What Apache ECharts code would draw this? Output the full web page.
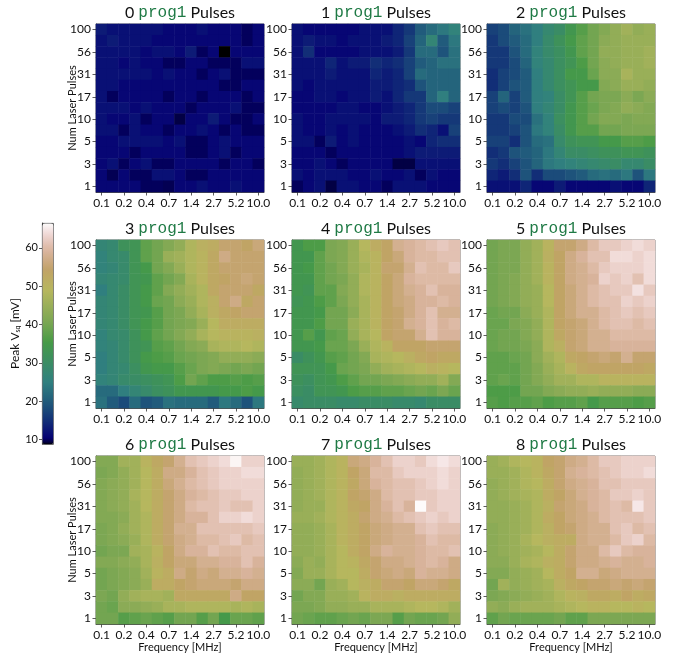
<!DOCTYPE html>
<html><head><meta charset="utf-8">
<script src="https://cdn.jsdelivr.net/npm/echarts@6/dist/echarts.min.js"></script>
<style>html,body{margin:0;padding:0;background:#fff}#c{width:673px;height:659px}</style>
</head><body><div id="c"></div>
<script>
// ---------- data ----------
const freqLabels = ["0.1","0.1","0.2","0.3","0.4","0.5","0.7","1.0","1.4","1.9","2.7","3.7","5.2","7.2","10.0"];
const pulseLabels = ["1","2","3","4","5","7","10","13","17","23","31","42","56","75","100"];
const panelNumbers = [0,1,2,3,4,5,6,7,8];
const colorbarTicks = [10,20,30,40,50,60];
const colorMin = 8.8, colorMax = 66.5;

// each panel: rows from top (100 pulses) to bottom (1 pulse), columns 0.1 -> 10 MHz
const panel0 = [
 [13,12,12,12,12,12,11,11,11,12,11,11,11,10,11],
 [12,13,12,12,12,11,11,11,11,11,11,11,11,10,11],
 [12,12,12,12,11,12,12,11,13,10,11,8.8,11,11,11],
 [12,12,11,12,11,11,10,10,11,11,10,10,10,12,12],
 [12,12,12,12,12,11,12,11,11,10,11,12,10,10,10],
 [12,12,11,11,11,11,11,11,11,11,11,10,10,11,11],
 [12,10,11,11,11,11,10,11,11,10,11,11,11,10,11],
 [12,12,12,11,12,11,11,11,10,11,11,11,12,10,10],
 [12,11,11,12,10,11,11,9.5,11,11,13,11,10,10,11],
 [12,12,10,12,11,11,10,11,11,12,11,10,11,10,10],
 [11,11,12,12,12,12,11,12,10,10,11,12,11,11,11],
 [11,11,11,10,11,11,11,11,10,10,11,12,10,11,11],
 [11,12,10,11,12,10,10,11,11,11,11,10,11,11,10],
 [11,9.8,11,10,10,12,12,11,10,10,11,11,11,11,11],
 [11,11,11,11,10,10,9.8,11,11,12,11,11,12,11,11]
];
const panel1 = [
 [12,11,11,11,11,11,12,12,12,14,16,20,22,24,26],
 [12,13,12,12,11,12,12,12,13,14,17,21,27,20,24],
 [12,15,11,11,11,11,12,12,12,13,16,22,22,19,23],
 [12,12,12,14,12,13,13,15,14,15,17,20,21,23,23],
 [12,12,12,13,12,12,12,14,13,14,17,22,21,21,21],
 [12,11,12,12,12,12,12,13,13,14,15,19,21,21,21],
 [11,11,12,12,11,12,12,13,12,14,16,16,21,25,21],
 [11,11,11,11,12,12,11,11,12,13,14,16,18,18,17],
 [12,11,11,12,12,12,12,11,13,13,14,16,17,16,16],
 [12,11,11,12,11,12,11,11,11,12,13,15,14,12,17],
 [12,12,10,13,11,12,11,11,11,11,12,11,14,15,15],
 [11,11,11,10,11,11,11,11,11,11,12,13,13,13,13],
 [11,11,12,11,10,11,11,11,11,9.5,9.5,12,12,12,12],
 [12,11,12,12,12,11,11,12,11,11,12,10,12,11,11],
 [10,11,12,9.5,12,12,11,11,10,12,12,12,11,11,11]
];
const panel2 = [
 [17,18,21,23,25,28,30,34,37,40,42,44,46,44,45],
 [16,18,20,22,25,29,32,35,38,40,43,44,45,45,45],
 [16,16,19,22,26,29,31,34,38,40,44,44,45,45,46],
 [16,16,18,21,26,28,31,33,36,40,43,44,45,45,46],
 [15,17,18,20,25,28,31,35,35,39,43,43,47,45,45],
 [15,17,19,20,25,28,31,33,35,35,42,43,45,45,44],
 [17,21,17,20,25,26,30,33,37,40,41,41,43,41,43],
 [17,18,17,19,25,27,30,34,37,39,41,42,44,43,42],
 [16,16,18,18,23,26,31,34,37,40,42,42,41,42,42],
 [16,16,17,19,24,26,30,34,37,37,40,40,41,41,41],
 [17,17,15,19,22,23,29,32,33,33,35,35,37,37,36],
 [15,16,19,20,21,24,27,30,30,31,32,32,33,33,32],
 [16,15,17,19,21,24,25,26,27,28,29,30,28,28,30],
 [14,13,15,19,15,18,18,19,20,22,23,22,24,19,24],
 [12,12,12,14,11,11,13,11,11,11,11,12,11,11,14]
];
const panel3 = [
 [27,28,32,33,38,40,42,44,48,51,52,55,55,54,56],
 [26,28,29,33,38,40,45,46,48,50,53,57,55,55,55],
 [26,27,29,33,35,40,42,45,48,50,53,55,55,55,55],
 [27,28,29,33,34,38,40,42,47,50,53,54,55,56,55],
 [25,28,30,33,35,38,42,44,46,48,53,55,55,55,53],
 [27,28,30,33,35,39,40,43,45,48,51,55,57,53,55],
 [27,28,30,33,34,37,40,41,44,47,51,53,54,55,55],
 [27,28,30,33,35,37,40,41,42,45,49,52,52,52,52],
 [26,28,29,32,35,38,40,42,44,47,49,50,50,50,51],
 [26,27,29,32,33,37,38,40,42,43,47,48,48,49,48],
 [25,27,29,32,35,36,37,39,40,41,42,44,44,44,43],
 [25,27,28,31,34,35,35,37,39,41,42,41,40,41,40],
 [26,27,29,30,31,32,33,36,40,38,36,36,37,36,37],
 [22,22,25,27,29,31,32,34,34,34,34,35,35,36,35],
 [23,20,18,22,19,20,23,22,22,22,20,24,22,19,24]
];
const panel4 = [
 [34,36,36,41,42,45,49,52,54,58,59,60,61,62,61],
 [34,34,38,41,42,45,48,50,54,56,59,60,60,61,61],
 [34,35,38,40,42,45,47,50,55,55,58,61,60,60,62],
 [34,34,38,40,41,44,48,50,54,56,59,60,60,60,60],
 [34,33,38,38,42,44,48,50,54,56,58,59,61,59,59],
 [33,34,36,38,41,44,47,50,54,56,57,59,59,60,59],
 [34,34,35,40,40,43,47,50,54,55,57,59,61,58,58],
 [34,34,36,40,40,45,47,50,54,55,58,59,61,59,60],
 [34,37,34,38,39,44,47,49,54,55,55,58,61,59,59],
 [34,34,35,39,39,41,45,48,50,54,54,54,55,55,55],
 [30,32,34,37,38,40,42,47,48,49,51,53,54,53,53],
 [33,33,33,35,39,40,41,44,46,47,48,49,51,50,49],
 [32,31,33,34,36,38,40,40,41,42,43,44,44,46,42],
 [31,30,33,33,34,36,37,37,38,38,39,40,39,41,39],
 [29,30,30,30,29,29,30,30,30,29,29,28,30,30,30]
];
const panel5 = [
 [40,41,41,44,46,50,55,55,57,60,62,62,63,64,63],
 [40,41,41,44,46,51,54,57,59,61,61,64,64,63,64],
 [40,41,41,44,46,50,54,57,58,60,62,63,63,63,64],
 [40,41,42,44,46,50,54,57,58,59,63,62,63,61,64],
 [40,41,42,44,45,49,54,56,58,60,61,62,62,64.5,62],
 [40,41,42,44,45,49,54,56,58,60,61,61,63,62,63],
 [39,40,40,43,45,48,54,56,58,58,60,61,62,61,62],
 [39,39,41,42,44,48,54,55,56,58,60,61,61,60,61],
 [39,40,40,42,44,48,53,55,56,58,58,60,60,60,60],
 [39,40,40,41,43,48,51,55,56,58,58,59,59,59,59],
 [38,38,39,40,43,46,48,53,54,55,56,55,58,55,55],
 [38,38,38,40,42,45,47,50,53,54,54,54,54,54,53],
 [38,39,38,40,42,44,46,46,48,48,50,50,50,50,50],
 [36,36,36,40,40,42,43,44,44,45,44,44,44,43,43],
 [37,36,37,37,38,36,37,37,38,35,37,37,37,36,37]
];
const panel6 = [
 [42,42,46,46,50,53,55,58,61,62,63,64,66,63,63],
 [41,42,44,46,49,52,57,57,59,61,62,63,63,64,64],
 [42,43,44,46,49,52,56,58,60,61,62,63,63,63,63],
 [42,43,44,47,49,52,55,57,59,60,61,62,62,63,63],
 [42,43,44,46,49,52,55,57,60,61,61,62,61,61,63],
 [42,42,43,46,48,52,55,57,59,59,61,63,63,64,63],
 [41,42,44,46,48,52,55,58,58,61,61,61,61,61,62],
 [41,42,43,45,48,52,55,57,58,60,60,61,62,60,61],
 [40,41,41,46,47,50,54,57,59,59,61,60,60,61,61],
 [42,42,43,44,47,51,54,56,56,58,58,59,59,61,59],
 [40,41,42,43,46,50,52,57,55,57,56,58,58,59,58],
 [40,41,42,43,45,52,52,54,55,56,56,56,55,57,57],
 [41,40,44,46,47,47,46,53,53,53,53,53,57,54,54],
 [40,39,43,43,44,45,47,47,48,48,48,48,47,48,47],
 [40,40,37,38,39,38,37,40,40,37,40,35,39,39,38]
];
const panel7 = [
 [45,45,46,48,50,56,57,59,61,63,63,62,64,65,64],
 [44,45,46,48,50,54,56,60,60,62,63,63,63,64,63],
 [44,45,46,48,50,53,56,59,60,61,61,62,63,64,63],
 [44,45,46,48,50,54,55,57,60,61,61,62,62,63,63],
 [44,45,45,48,50,53,54,57,59,61,59,66.5,62,63,63],
 [45,45,46,48,50,52,55,57,58,60,61,62,63,62,63],
 [44,44,45,47,50,52,54,56,57,58,58,61,62,61,61],
 [44,44,45,47,50,52,54,56,57,58,58,59,61,60,60],
 [44,44,45,47,49,52,54,57,59,58,58,59,60,60,61],
 [43,45,44,47,49,50,53,55,57,57,58,59,60,59,57],
 [42,45,45,47,49,49,52,55,56,57,56,59,58,58,57],
 [43,43,40,45,46,49,51,52,55,55,54,56,56,55,53],
 [40,42,42,45,45,46,50,52,52,51,52,52,52,52,52],
 [41,41,42,44,44,45,45,47,47,47,48,49,49,48,46],
 [40,39,38,38,39,40,39,41,41,37,40,39,39,40,44]
];
const panel8 = [
 [45,46,48,49,50,54,55,57,58,60,62,62,63,63,63],
 [45,45,46,48,50,53,55,58,59,60,61,62,63,63,64],
 [44,45,46,48,49,52,55,57,58,59,61,61,62,62,62],
 [44,45,46,47,48,52,54,56,58,59,60,62,62,63,62],
 [44,44,45,46,48,51,55,56,57,59,60,61,60,65,62],
 [44,44,45,46,48,52,54,56,57,58,60,61,61,61,62],
 [43,44,45,46,48,51,54,55,57,58,58,61,62,60,61],
 [43,44,45,47,49,51,52,52,57,58,58,60,62,63,60],
 [43,44,45,46,47,49,52,55,57,57,60,62,60,59,59],
 [43,43,45,47,48,51,52,55,57,57,58,59,58,58,59],
 [42,42,44,45,46,49,52,54,58,58,56,57,58,58,58],
 [40,46,44,45,46,47,51,53,54,55,55,56,55,56,55],
 [41,42,43,44,45,46,48,50,51,53,53,52,54,52,53],
 [44,43,45,46,46,46,47,48,49,50,50,49,49,50,49],
 [38,40,39,39,39,39,40,38,38,41,41,41,41,41,41]
];
const panels = [panel0,panel1,panel2,panel3,panel4,panel5,panel6,panel7,panel8];

// ---------- colormap (gist_earth segment data) ----------
const cmR = [[0,0],[0.2824,0.1882],[0.4588,0.2714],[0.5490,0.4719],[0.6980,0.7176],[0.7882,0.7553],[1,0.9922]];
const cmG = [[0,0],[0.0275,0],[0.1098,0.1893],[0.1647,0.3035],[0.2078,0.3841],[0.2824,0.5020],[0.5216,0.6397],[0.6980,0.7171],[0.7882,0.6392],[0.7922,0.6413],[0.8000,0.6447],[0.8078,0.6481],[0.8157,0.6549],[0.8667,0.6991],[0.8745,0.7103],[0.8824,0.7216],[0.8902,0.7323],[0.8980,0.7430],[0.9412,0.8275],[0.9569,0.8635],[0.9647,0.8816],[0.9961,0.9733],[1,0.9843]];
const cmB = [[0,0],[0.0039,0.1684],[0.0078,0.2212],[0.0275,0.4329],[0.0314,0.4549],[0.2824,0.5004],[0.4667,0.2748],[0.5451,0.3205],[0.7843,0.3961],[0.8941,0.6651],[1,0.9843]];
function seg(s,t){for(let i=1;i<s.length;i++){if(t<=s[i][0]){const a=s[i-1],b=s[i];return a[1]+(b[1]-a[1])*(t-a[0])/(b[0]-a[0]);}}return s[s.length-1][1];}
const stops=[];
for(let i=0;i<=200;i++){const t=i/200;const r=Math.round(seg(cmR,t)*255),g=Math.round(seg(cmG,t)*255),b=Math.round(seg(cmB,t)*255);stops.push('rgb('+r+','+g+','+b+')');}

// ---------- layout ----------
const colLeft=[96,292,487], rowTop=[24,240,456], size=168;
const font='Lato';
const grids=[],xAxes=[],yAxes=[],series=[],graphics=[];
panels.forEach((p,i)=>{
  const r=Math.floor(i/3), c=i%3;
  grids.push({left:colLeft[c],top:rowTop[r],width:size,height:size,show:true,borderColor:'#444',borderWidth:0.8,containLabel:false});
  xAxes.push({type:'category',gridIndex:i,data:freqLabels,
    axisLine:{show:true,lineStyle:{color:'#333',width:0.8}},
    axisTick:{show:true,interval:1,alignWithLabel:true,length:3.5,lineStyle:{color:'#333',width:0.8}},
    axisLabel:{interval:1,fontSize:12,fontFamily:font,color:'#111',margin:5},
    splitLine:{show:false},
    name:r===2?'Frequency [MHz]':'',nameLocation:'middle',nameGap:18,nameMoveOverlap:false,
    nameTextStyle:{fontSize:11,fontFamily:font,color:'#111'}});
  yAxes.push({type:'category',gridIndex:i,data:pulseLabels,
    axisLine:{show:true,lineStyle:{color:'#333',width:0.8}},
    axisTick:{show:true,interval:1,alignWithLabel:true,length:3.5,lineStyle:{color:'#333',width:0.8}},
    axisLabel:{interval:1,fontSize:12,fontFamily:font,color:'#111',margin:5},
    splitLine:{show:false},
    name:c===0?'Num Laser Pulses':'',nameLocation:'middle',nameGap:18,nameMoveOverlap:false,
    nameTextStyle:{fontSize:11,fontFamily:font,color:'#111'}});
  const data=[];
  p.forEach((row,ri)=>row.forEach((v,xi)=>data.push([xi,14-ri,v])));
  series.push({type:'heatmap',xAxisIndex:i,yAxisIndex:i,data:data,itemStyle:{borderWidth:0},emphasis:{disabled:true},progressive:0,animation:false});
  graphics.push({type:'text',x:colLeft[c]+size/2,y:rowTop[r]-11,
    style:{text:'{n|'+panelNumbers[i]+' }{m|prog1}{n| Pulses}',align:'center',verticalAlign:'middle',
      rich:{n:{fontSize:16,fontFamily:font,fill:'#111',color:'#111'},m:{fontSize:16,fontFamily:'Liberation Mono',fill:'#1f7a45',color:'#1f7a45'}}}});
});
// colorbar axis
const cb={left:42,top:223,width:11,height:221};
grids.push({left:cb.left,top:cb.top,width:cb.width,height:cb.height,show:false});
xAxes.push({type:'value',gridIndex:9,show:false,min:0,max:1});
yAxes.push({type:'value',gridIndex:9,min:colorMin,max:colorMax,position:'left',
  axisLine:{show:true,lineStyle:{color:'#333',width:0.8}},
  axisTick:{show:true,length:3,customValues:colorbarTicks,lineStyle:{color:'#333',width:0.8}},
  axisLabel:{customValues:colorbarTicks,fontSize:11,fontFamily:font,color:'#111',margin:4},
  splitLine:{show:false},
  name:'{a|Peak V}{s|sq}{a| [mV]}',nameLocation:'middle',nameGap:21,nameMoveOverlap:false,
  nameTextStyle:{rich:{a:{fontSize:12,fontFamily:font,color:'#111'},s:{fontSize:7,fontFamily:font,color:'#111',verticalAlign:'bottom',padding:[4,0,0,0]}}}});

const chart=echarts.init(document.getElementById('c'),null,{renderer:'canvas'});
chart.setOption({
  animation:false,
  backgroundColor:'#fff',
  grid:grids,xAxis:xAxes,yAxis:yAxes,series:series,graphic:graphics,
  visualMap:{type:'continuous',min:colorMin,max:colorMax,seriesIndex:[0,1,2,3,4,5,6,7,8],
    inRange:{color:stops},left:cb.left,top:cb.top,itemWidth:cb.width,itemHeight:cb.height,
    padding:0,calculable:false,hoverLink:false,text:null,showLabel:false,borderColor:'#333',borderWidth:0.8,orient:'vertical'}
});
</script></body></html>
